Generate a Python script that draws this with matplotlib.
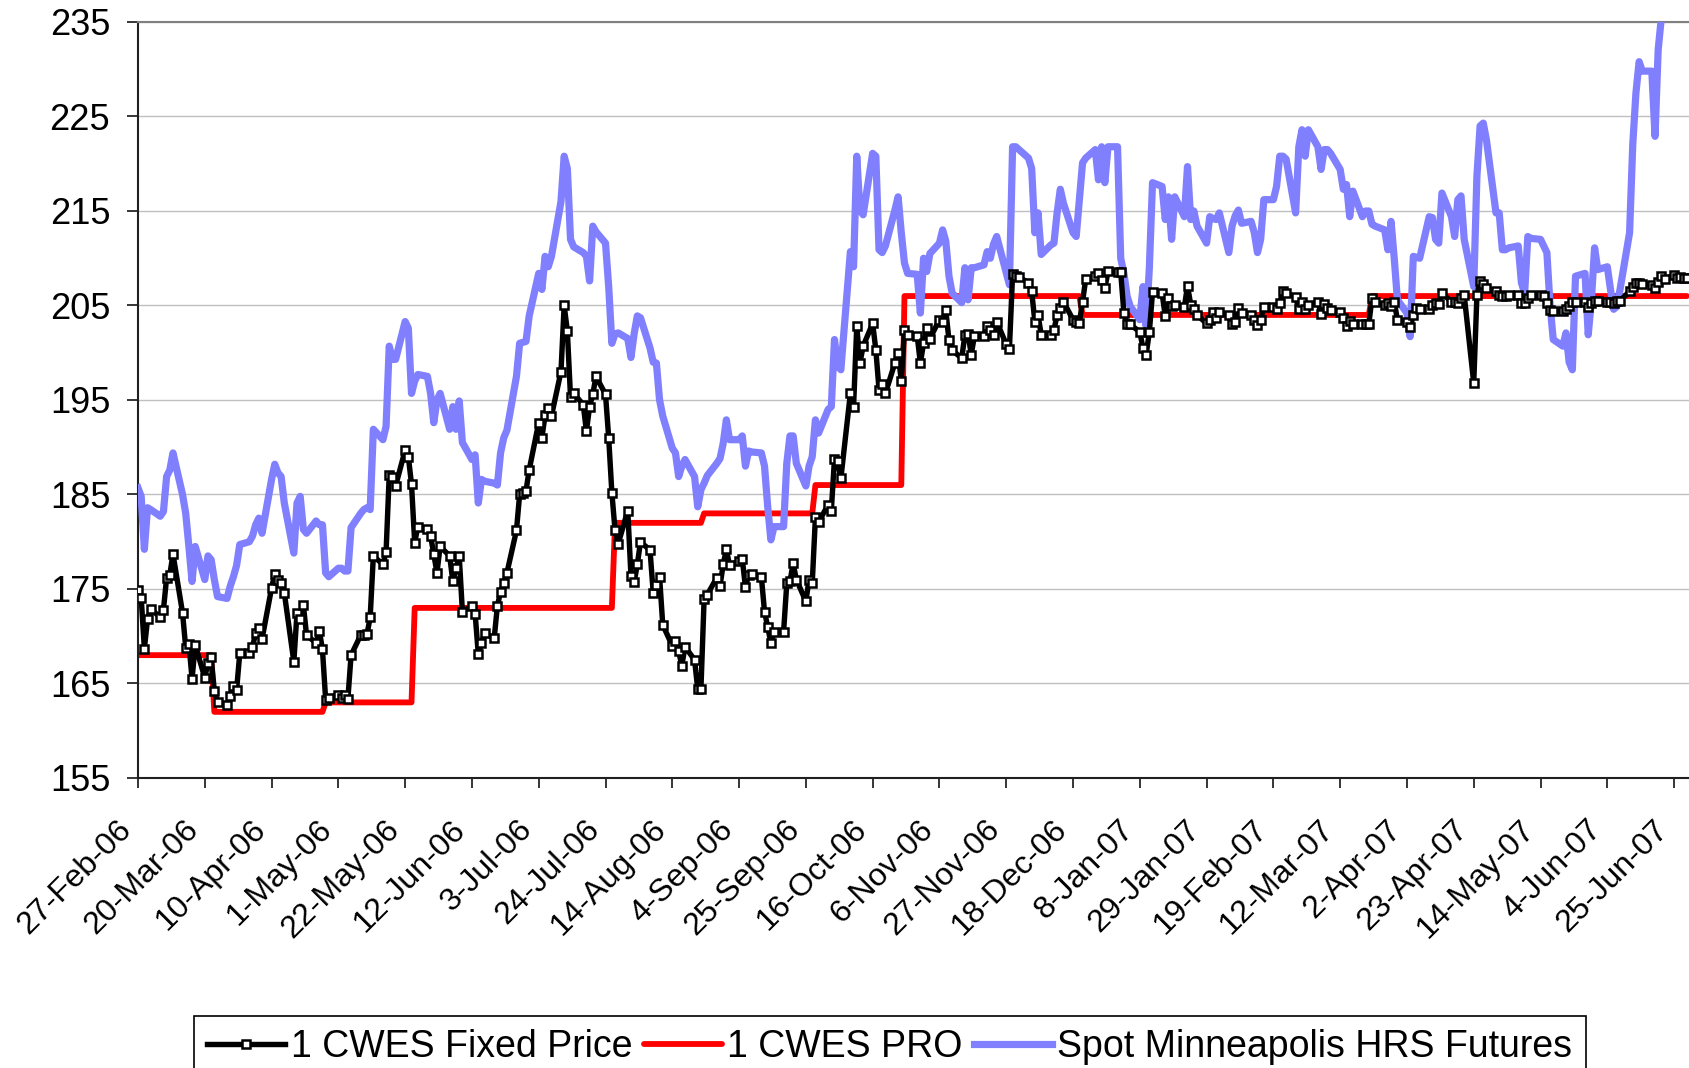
import pandas as pd
import matplotlib
matplotlib.use("Agg")
import matplotlib.pyplot as plt
from matplotlib import font_manager
from matplotlib.transforms import ScaledTranslation

# business days from 27-Feb-06 to 29-Jun-07, one line per week (Mon..Fri)
fixed_price = [
    174.9, 174.1, 168.7, 171.8, 172.9,
    172.0, 172.8, 176.2, 176.5, 178.7,
    172.5, 168.8, 169.2, 165.5, 169.1,
    165.6, 167.2, 167.8, 164.2, 163.0,   # 20-Mar-06
    162.7, 163.7, 164.7, 164.3, 168.2,
    168.2, 168.9, 170.3, 170.9, 169.7,
    175.1, 176.6, 176.0, 175.6, 174.6,   # 10-Apr-06
    167.3, 172.5, 171.8, 173.3, 170.1,
    169.3, 170.6, 168.6, 163.3, 163.5,
    163.8, 163.5, 163.8, 163.4, 168.0,   # 1-May-06
    170.1, 170.1, 170.2, 172.0, 178.5,
    177.6, 178.9, 187.1, 186.9, 185.9,
    189.7, 189.0, 186.1, 179.9, 181.6,   # 22-May-06
    181.4, 180.6, 178.7, 176.7, 179.5,
    178.5, 175.8, 177.2, 178.5, 172.6,
    173.2, 172.4, 168.1, 169.3, 170.3,   # 12-Jun-06
    169.8, 173.2, 174.7, 175.6, 176.7,
    181.2, 185.0, 185.2, 185.4, 187.6,
    192.6, 191.0, 193.4, 194.2, 193.3,   # 3-Jul-06
    198.0, 205.0, 202.3, 195.3, 195.7,
    194.5, 191.7, 194.3, 195.6, 197.5,
    195.6, 191.0, 185.2, 181.2, 179.8,   # 24-Jul-06
    183.3, 176.4, 175.7, 177.6, 180.0,
    179.1, 174.6, 175.4, 176.3, 171.2,
    169.0, 169.5, 168.4, 166.9, 168.9,   # 14-Aug-06
    167.5, 164.4, 164.4, 173.9, 174.4,
    176.2, 175.3, 177.6, 179.2, 177.5,
    178.0, 178.2, 175.2, 176.5, 176.6,   # 4-Sep-06
    176.3, 172.6, 171.0, 169.3, 170.4,
    170.5, 175.6, 175.8, 177.7, 176.0,
    173.7, 176.0, 175.6, 182.6, 182.1,   # 25-Sep-06
    183.9, 183.3, 188.8, 188.5, 186.7,
    195.7, 194.3, 202.8, 198.9, 200.7,
    203.1, 200.3, 196.1, 196.7, 195.7,   # 16-Oct-06
    198.9, 200.0, 197.0, 202.4, 201.9,
    201.8, 198.9, 201.0, 202.6, 201.5,
    203.5, 203.3, 204.5, 201.3, 200.3,   # 6-Nov-06
    199.4, 201.9, 202.0, 199.8, 201.8,
    201.8, 202.8, 202.4, 201.9, 203.3,
    200.9, 200.4, 208.3, 208.1, 208.0,   # 27-Nov-06
    207.4, 206.5, 203.3, 204.0, 201.9,
    201.9, 202.4, 204.0, 204.7, 205.4,
    203.5, 203.3, 203.2, 205.4, 207.8,   # 18-Dec-06
    208.1, 208.4, 207.7, 206.8, 208.6,
    208.5, 208.5, 204.2, 203.0, 203.0,
    202.2, 200.5, 199.8, 202.2, 206.4,   # 8-Jan-07
    206.3, 203.9, 205.8, 204.9, 205.0,
    204.8, 207.1, 205.1, 204.6, 204.0,
    203.1, 203.5, 204.3, 203.7, 204.3,   # 29-Jan-07
    204.0, 203.0, 203.3, 204.7, 204.2,
    204.0, 203.5, 202.9, 203.5, 204.8,
    204.8, 204.6, 205.3, 206.5, 206.3,   # 19-Feb-07
    205.9, 204.6, 205.4, 204.6, 205.0,
    205.4, 204.1, 205.2, 204.7, 204.5,
    204.3, 203.7, 202.8, 203.4, 203.0,   # 12-Mar-07
    203.0, 203.0, 203.0, 205.8, 205.4,
    205.0, 205.3, 204.9, 205.4, 203.5,
    203.3, 202.7, 204.0, 204.7, 204.6,   # 2-Apr-07
    204.6, 205.0, 205.3, 205.2, 206.3,
    205.4, 205.4, 205.3, 205.8, 206.1,
    196.8, 206.1, 207.6, 207.3, 206.8,   # 23-Apr-07
    206.5, 206.1, 206.0, 206.0, 206.1,
    206.1, 205.3, 205.3, 205.8, 206.1,
    206.1, 206.0, 205.3, 204.5, 204.4,   # 14-May-07
    204.4, 204.6, 204.9, 205.4, 205.4,
    205.4, 204.8, 205.3, 205.5, 205.5,
    205.4, 205.4, 205.3, 205.5, 205.5,   # 4-Jun-07
    206.5, 207.0, 207.4, 207.4, 207.3,
    207.2, 206.8, 207.5, 208.1, 207.8,
    208.2, 207.9, 208.0, 207.9, 207.9,   # 25-Jun-07
]

spot_hrs = [
    185.7, 184.8, 179.2, 183.6, 183.4,
    182.7, 183.2, 186.9, 187.6, 189.4,
    185.0, 183.0, 179.5, 175.8, 179.5,
    176.0, 178.5, 178.1, 176.0, 174.2,
    174.0, 175.3, 176.3, 177.5, 179.7,
    180.0, 180.6, 181.8, 182.5, 180.9,
    186.6, 188.2, 187.3, 186.9, 184.1,
    178.8, 184.1, 184.8, 181.3, 180.9,
    182.2, 181.8, 181.8, 176.7, 176.3,
    177.2, 177.2, 176.9, 176.9, 181.5,
    183.0, 183.4, 183.6, 183.4, 191.9,
    190.8, 192.2, 200.7, 199.3, 199.3,
    203.3, 202.6, 195.7, 197.0, 197.7,
    197.5, 195.7, 192.6, 195.0, 195.7,
    191.9, 194.3, 191.9, 194.9, 190.5,
    188.7, 189.2, 184.1, 186.6, 186.4,
    186.2, 186.0, 189.4, 191.0, 191.8,
    197.5, 201.0, 201.1, 201.2, 203.9,
    208.4, 206.7, 210.2, 209.1, 210.2,
    216.0, 220.8, 219.5, 212.0, 211.2,
    210.6, 210.2, 207.6, 213.4, 212.8,
    211.6, 207.0, 201.0, 202.0, 202.1,
    201.5, 199.5, 202.0, 203.9, 203.7,
    200.5, 199.0, 198.9, 195.0, 193.3,
    189.9, 189.4, 186.9, 188.0, 188.7,
    186.9, 183.7, 185.5, 186.2, 187.0,
    188.3, 188.8, 190.4, 192.9, 190.8,
    190.8, 191.2, 188.0, 189.6, 189.5,
    189.4, 188.0, 183.7, 180.2, 181.6,
    181.6, 188.3, 191.2, 191.2, 188.3,
    185.9, 188.0, 189.0, 192.9, 191.5,
    194.0, 194.3, 201.4, 198.6, 198.2,
    210.7, 209.1, 220.8, 215.1, 214.6,
    221.1, 220.8, 210.9, 210.6, 211.3,
    215.1, 216.5, 212.7, 209.5, 208.4,
    208.3, 204.2, 210.0, 208.6, 210.5,
    211.6, 213.0, 211.8, 208.1, 206.3,
    205.3, 209.0, 205.6, 209.0, 209.0,
    209.3, 210.7, 210.0, 211.5, 212.3,
    208.5, 207.2, 221.8, 221.8, 221.5,
    220.6, 219.5, 212.7, 214.8, 210.4,
    211.4, 211.6, 214.8, 217.3, 215.8,
    212.7, 212.3, 216.2, 220.1, 220.6,
    221.5, 218.3, 221.8, 218.0, 221.8,
    221.8, 210.0, 208.4, 206.0, 204.9,
    203.5, 207.0, 202.8, 209.0, 218.0,
    217.6, 214.1, 216.5, 212.0, 216.5,
    214.4, 219.7, 214.1, 215.0, 213.4,
    211.6, 214.4, 214.2, 214.1, 214.8,
    210.6, 213.4, 214.5, 215.1, 213.7,
    213.9, 212.7, 210.6, 212.0, 216.2,
    216.2, 217.6, 220.8, 220.8, 220.5,
    214.8, 221.8, 223.6, 220.8, 223.6,
    221.8, 219.4, 221.5, 221.5, 221.1,
    219.4, 217.3, 217.8, 214.4, 217.1,
    214.4, 215.0, 215.0, 213.6, 213.4,
    213.0, 210.9, 213.9, 210.0, 205.6,
    204.2, 201.7, 210.2, 210.1, 210.0,
    214.4, 214.3, 212.0, 211.6, 216.9,
    214.4, 212.3, 216.2, 216.6, 212.0,
    207.0, 218.7, 224.0, 224.3, 222.5,
    214.8, 214.8, 210.9, 210.9, 211.1,
    211.3, 207.4, 206.3, 212.3, 212.1,
    212.0, 211.3, 210.6, 205.0, 201.4,
    200.7, 202.1, 199.0, 198.2, 208.1,
    208.4, 201.9, 205.6, 211.1, 208.8,
    209.1, 206.7, 204.6, 204.9, 206.7,
    212.7, 222.0, 227.5, 230.8, 229.8,
    229.8, 222.9, 232.1, 235.5, 237.0,
    238.0, 238.5, 239.0, 238.5, 239.5,
]

# PRO price: level in force from each start date
pro_start = ["2006-02-27", "2006-03-23", "2006-04-27", "2006-05-25", "2006-07-27",
             "2006-08-24", "2006-09-28", "2006-10-26", "2006-12-21", "2007-03-22"]
pro_level = [168, 162, 163, 173, 182, 183, 186, 206, 204, 206]

series_names = ["1 CWES Fixed Price", "1 CWES PRO", "Spot Minneapolis HRS Futures"]
first_day = "2006-02-27"
last_day = "2007-06-29"
axis_end = "2007-06-30"
last_tick = "2007-06-25"

plt.rcParams["font.family"] = ["Liberation Sans", "DejaVu Sans"]

dates = pd.bdate_range(first_day, last_day)
pro = pd.Series(pro_level, index=pd.to_datetime(pro_start)).reindex(dates, method="ffill")

fig = plt.figure(figsize=(16.9, 10.68), dpi=100)
ax = fig.add_axes([138 / 1690, 1 - 778 / 1068, 1 - 138 / 1690, (778 - 22) / 1068])

l_pro, = ax.plot(dates, pro.values, color="#ff0000", lw=4.2,
                 solid_joinstyle="round", solid_capstyle="round", zorder=2)
l_spot, = ax.plot(dates, spot_hrs, color="#8080ff", lw=5.2, zorder=3)
l_fix, = ax.plot(dates, fixed_price, color="black", lw=3.9, marker="s", ms=5.6,
                 mfc="white", mec="black", mew=1.8, zorder=4)

ax.set_xlim(pd.Timestamp(first_day), pd.Timestamp(axis_end))
ax.set_ylim(155, 235)
ax.set_yticks(range(155, 236, 10))
ax.yaxis.grid(True, color="#c0c0c0", lw=1.0)
ax.set_axisbelow(True)

ticks = pd.date_range(first_day, last_tick, freq="21D")
ax.set_xticks(ticks)
ax.set_xticklabels([f"{d.day}-{d.strftime('%b-%y')}" for d in ticks],
                   rotation=45, ha="right", fontsize=23)
shift = ScaledTranslation(-0.14, 0, fig.dpi_scale_trans)
for lab in ax.get_xticklabels():
    lab.set_transform(lab.get_transform() + shift)

ax.tick_params(axis="x", direction="out", length=7.2, width=1.1, pad=19, colors="black")
ax.tick_params(axis="y", direction="out", length=8, width=1.1, pad=12, labelsize=26)

for side in ["left", "bottom"]:
    ax.spines[side].set_color("#202020")
    ax.spines[side].set_linewidth(1.5)
ax.spines["top"].set_color("#808080")
ax.spines["top"].set_linewidth(1.5)
ax.spines["right"].set_visible(False)

installed = {f.name for f in font_manager.fontManager.ttflist}
if "Liberation Sans Narrow" in installed:
    leg_font = {"family": "Liberation Sans Narrow", "size": 32.5}
else:
    leg_font = {"family": "Liberation Sans", "size": 27}

leg = fig.legend([l_fix, l_pro, l_spot], series_names, loc="upper left",
                 bbox_to_anchor=(194 / 1690, 1 - 1016 / 1068), borderaxespad=0, ncol=3,
                 prop=leg_font, numpoints=1, handlelength=2.08, handletextpad=0.15,
                 columnspacing=0.3, borderpad=0.35, fancybox=False, framealpha=1,
                 edgecolor="black")
leg.get_frame().set_linewidth(1.2)

fig.savefig("out.png", dpi=100)
